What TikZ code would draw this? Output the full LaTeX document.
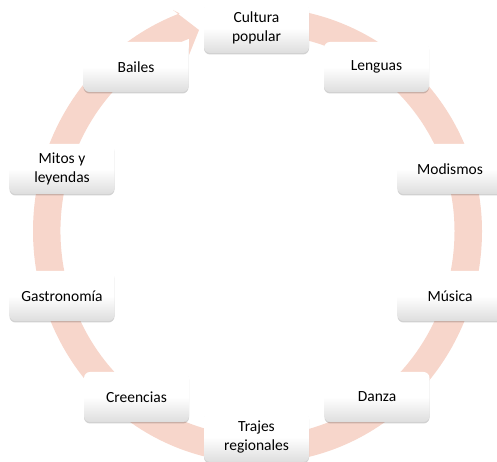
\documentclass[tikz,border=0pt]{standalone}
\usepackage{fontspec}
\setmainfont{Carlito}
\usetikzlibrary{shadows,calc}
\definecolor{ringc}{RGB}{247,214,203}
\begin{document}
\begin{tikzpicture}[x=1pt,y=1pt,
  box/.style={rounded corners=6pt, minimum width=105pt, minimum height=50pt,
    top color=white, bottom color=black!13, middle color=white,
    align=center, font=\fontsize{15.5}{18.5}\selectfont, text=black, inner sep=2pt,
    drop shadow={shadow xshift=0pt, shadow yshift=-1.5pt, opacity=0.18, fill=black}}]
\useasboundingbox (0,0) rectangle (497,462);
\coordinate (C) at (257.5,231);
\coordinate (hA) at (173,452);
\coordinate (tip) at (199,432);
\coordinate (hB) at (189,407);
% circular arrow
\fill[ringc] ($(C)+(80:224.5pt and 224pt)$)
  arc[start angle=80, end angle=0, x radius=224.5pt, y radius=224pt]
  arc[start angle=0, end angle=-249.7, x radius=224.5pt, y radius=232pt]
  -- (hA) -- (tip) -- (hB)
  -- ($(C)+(110.3:197pt and 205pt)$)
  arc[start angle=110.3, end angle=360, x radius=197pt, y radius=205pt]
  arc[start angle=0, end angle=80, x radius=197pt, y radius=197pt]
  -- cycle;
% boxes
\node[box] (cul) at (256.5,434) {Cultura\\popular};
\node[box] (len) at (376.5,395) {Lenguas};
\node[box] (mod) at (450,293) {Modismos};
\node[box] (mus) at (450,166) {Música};
\node[box] (dan) at (377,65) {Danza};
\node[box] (tra) at (256.5,25) {Trajes\\regionales};
\node[box] (cre) at (136.5,65) {Creencias};
\node[box] (gas) at (62,166) {Gastronomía};
\node[box] (mit) at (62,293) {Mitos y\\leyendas};
\node[box] (bai) at (136,395) {Bailes};
\end{tikzpicture}
\end{document}
